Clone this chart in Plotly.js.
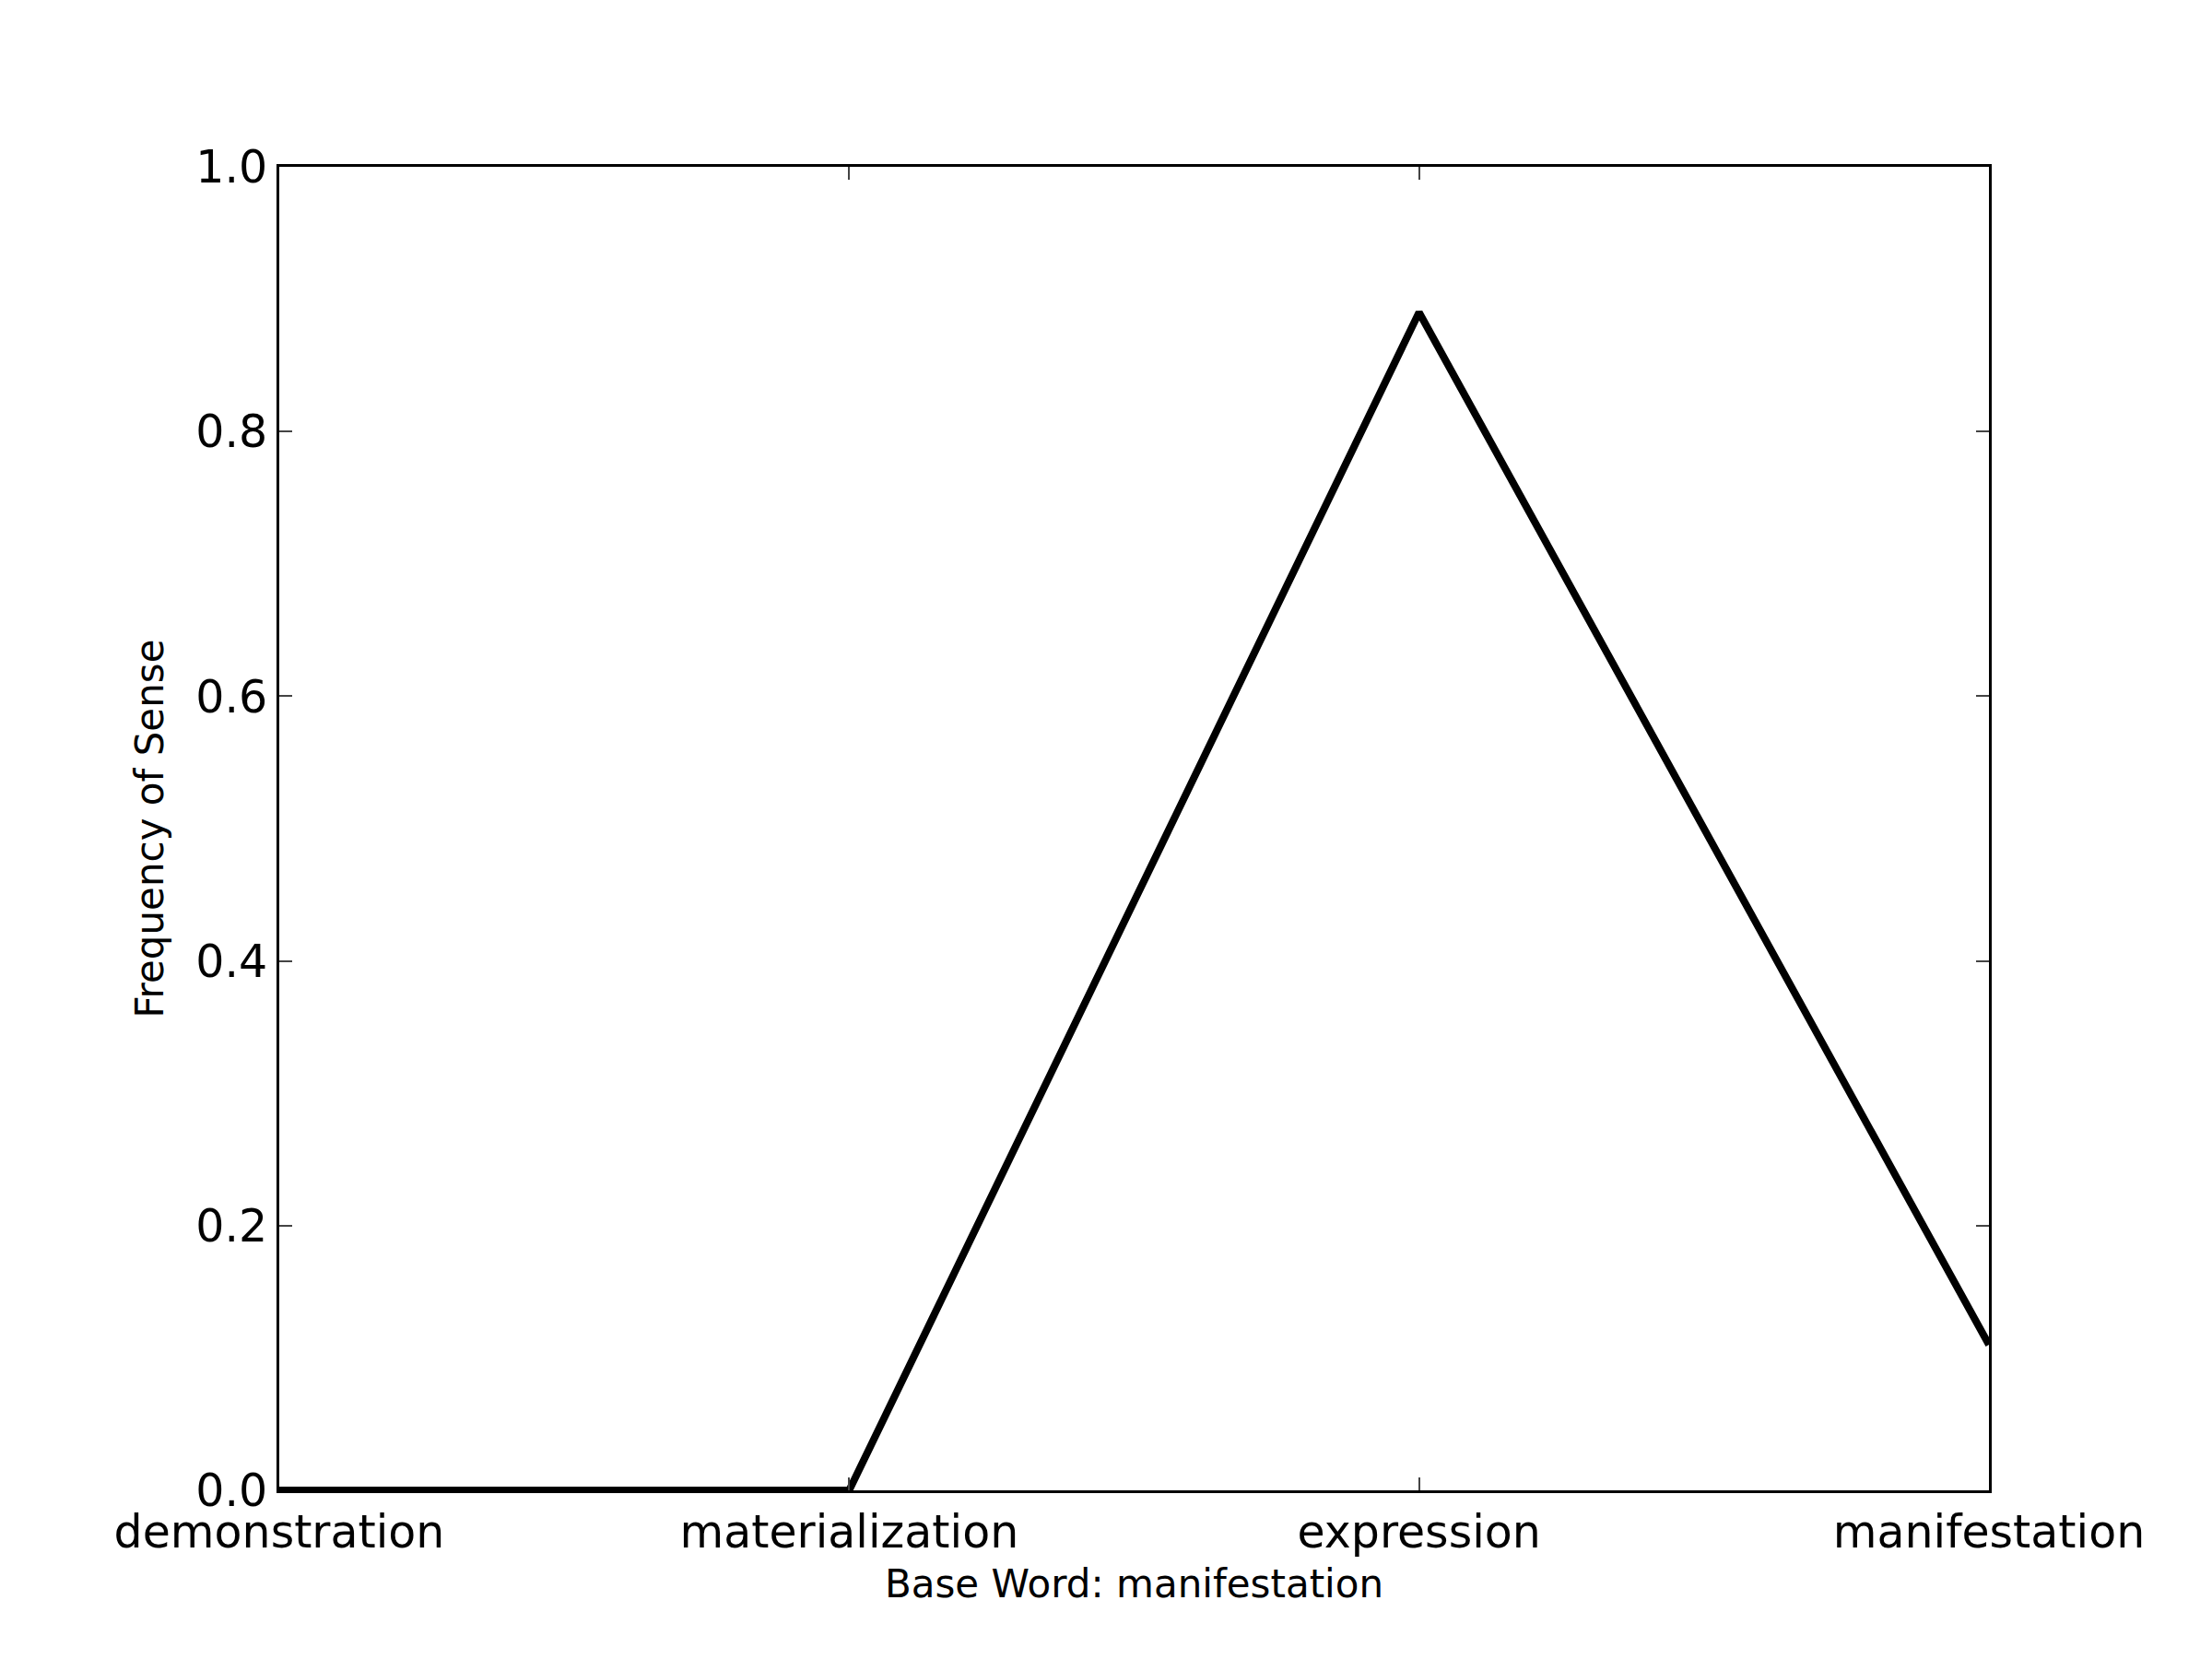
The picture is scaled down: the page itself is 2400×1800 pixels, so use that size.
<!DOCTYPE html>
<html><head><script src="https://cdn.plot.ly/plotly-3.0.1.min.js"></script>
<style>body{margin:0;background:#fff}</style></head>
<body><div id="c" style="width:2400px;height:1800px"></div>
<script>
const categories = ["demonstration","materialization","expression","manifestation"];
const values = [0.0, 0.0, 0.89, 0.11];
const yTicks = [0,0.2,0.4,0.6,0.8,1.0];
const yTickLabels = ["0.0","0.2","0.4","0.6","0.8","1.0"];
Plotly.newPlot("c",[{
  x:[0,1,2,3], y:values, type:"scatter", mode:"lines",
  line:{color:"#000",width:8}
}],{
  width:2400,height:1800,
  margin:{l:303,r:242,t:181,b:183},
  paper_bgcolor:"#fff",plot_bgcolor:"#fff",
  font:{family:"DejaVu Sans",size:48,color:"#000"},
  showlegend:false,
  xaxis:{range:[0,3],tickvals:[0,1,2,3],ticktext:categories,
    showline:true,mirror:"allticks",linecolor:"#000",linewidth:3,
    ticks:"inside",ticklen:14,tickwidth:2,showgrid:false,zeroline:false,
    tickfont:{size:49},
    title:{text:"Base Word: manifestation",standoff:14,font:{size:42}}},
  yaxis:{range:[0,1],tickvals:yTicks,ticktext:yTickLabels,
    showline:true,mirror:"allticks",linecolor:"#000",linewidth:3,
    ticks:"inside",ticklen:14,tickwidth:2,showgrid:false,zeroline:false,
    tickfont:{size:49},
    title:{text:"Frequency of Sense",standoff:22,font:{size:42}}}
},{staticPlot:true});
</script></body></html>
